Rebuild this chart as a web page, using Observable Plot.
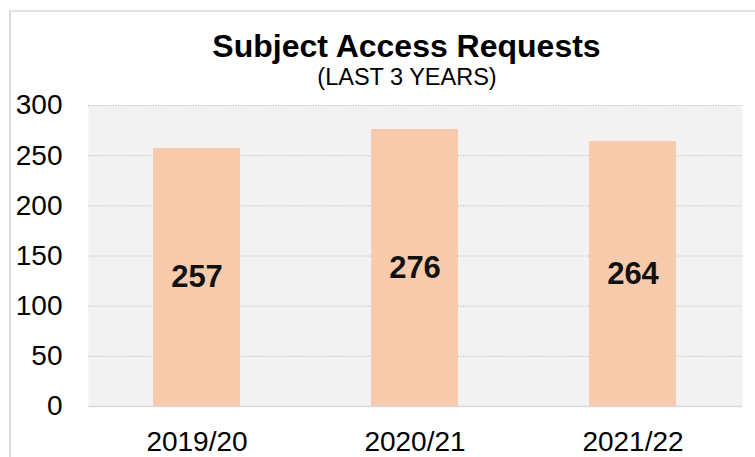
<!DOCTYPE html>
<html>
<head>
<meta charset="utf-8">
<script src="https://cdn.jsdelivr.net/npm/d3@7"></script>
<script src="https://cdn.jsdelivr.net/npm/@observablehq/plot@0.6"></script>
<style>
  html, body { margin: 0; padding: 0; background: #fff; }
  #frame { position: relative; width: 755px; height: 457px; overflow: hidden; font-family: Arial, "Liberation Sans", sans-serif; }
  #border { position: absolute; left: 9px; top: 10px; width: 900px; height: 600px; border-left: 2px solid #d9d9d9; border-top: 2px solid #e2e2e2; }
  #header { position: relative; height: 95px; }
  #title { position: absolute; left: 406.5px; top: 30px; transform: translateX(-50%); white-space: nowrap; font-size: 32px; line-height: 32px; font-weight: bold; color: #000; }
  #subtitle { position: absolute; left: 407px; top: 66px; transform: translateX(-50%); white-space: nowrap; font-size: 23.5px; line-height: 23.5px; color: #000; }
  #chart { position: relative; }
  #chart svg { display: block; background: transparent; }
</style>
</head>
<body>
<div id="frame">
  <div id="border"></div>
  <div id="header">
    <div id="title">Subject Access Requests</div>
    <div id="subtitle">(LAST 3 YEARS)</div>
  </div>
  <div id="chart"></div>
</div>
<script>
const categories = ["2019/20", "2020/21", "2021/22"];
const values = [257, 276, 264];
const yTicks = [0, 50, 100, 150, 200, 250, 300];

const data = categories.map((c, i) => ({category: c, value: values[i]}));

const chart = Plot.plot({
  width: 755,
  height: 362,
  marginTop: 10,
  marginBottom: 51,
  marginLeft: 88,
  marginRight: 13,
  style: {background: "transparent", fontFamily: "Arial, 'Liberation Sans', sans-serif", color: "#000", overflow: "visible"},
  x: {domain: categories, paddingInner: 0.6, paddingOuter: 0.3, label: null},
  y: {domain: [0, 300], label: null},
  marks: [
    Plot.frame({fill: "#f2f2f2", stroke: null}),
    Plot.gridY(yTicks, {stroke: "#b8b8b8", strokeOpacity: 1, strokeDasharray: "1 1.5", strokeWidth: 1}),
    Plot.barY(data, {x: "category", y: "value", fill: "#f8cbad"}),
    Plot.ruleY([0], {stroke: "#d9d9d9", strokeWidth: 1.5}),
    Plot.text(data, {x: "category", y: d => d.value / 2, text: d => String(d.value), fontSize: 31, fontWeight: "bold", fill: "#111"}),
    Plot.axisY(yTicks, {tickSize: 0, tickPadding: 26, fontSize: 28, fill: "#000", label: null}),
    Plot.axisX({tickSize: 0, tickPadding: 25, fontSize: 28, fill: "#000", label: null})
  ]
});
document.getElementById("chart").appendChild(chart);
</script>
</body>
</html>
